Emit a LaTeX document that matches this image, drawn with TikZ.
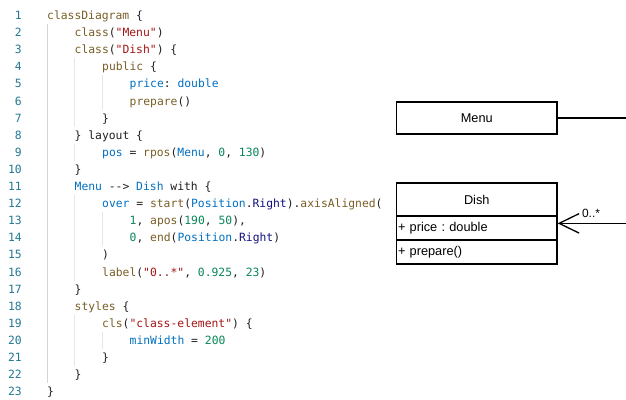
\documentclass[tikz,border=0pt]{standalone}
\usepackage{fontspec}
\setmainfont{Liberation Sans}
\setmonofont{DejaVu Sans Mono}
\usetikzlibrary{arrows.meta,calc}
\definecolor{cfun}{HTML}{795E26}
\definecolor{cstr}{HTML}{A31515}
\definecolor{cnum}{HTML}{098658}
\definecolor{cvar}{HTML}{0070C1}
\definecolor{cenum}{HTML}{101080}
\definecolor{cpun}{HTML}{1F1F1F}
\definecolor{clnum}{HTML}{237893}
\definecolor{guideA}{HTML}{D4D4D4}
\definecolor{guideB}{HTML}{E6E6E6}
\newcommand\cF[1]{\textcolor{cfun}{#1}}
\newcommand\cS[1]{\textcolor{cstr}{#1}}
\newcommand\cN[1]{\textcolor{cnum}{#1}}
\newcommand\cV[1]{\textcolor{cvar}{#1}}
\newcommand\cR[1]{\textcolor{cenum}{#1}}
\frenchspacing
\tikzset{
  codeline/.style={anchor=base west, inner sep=0pt, text=cpun,
    font=\ttfamily\fontsize{11.4}{13}\selectfont},
  lnum/.style={anchor=base east, inner sep=0pt, text=clnum,
    font=\ttfamily\fontsize{11.4}{13}\selectfont},
  guide1/.style={draw=guideA, line width=1bp},
  guide2/.style={draw=guideB, line width=1bp},
  umlbox/.style={draw=black, line width=1.3bp, minimum width=160.5bp,
    inner sep=0pt, font=\frenchspacing\fontsize{12.8}{15}\selectfont},
  umlrow/.style={umlbox, text width=157.5bp, align=left, inner xsep=1.5bp},
  mult/.style={inner sep=0pt, font=\fontsize{12}{14}\selectfont},
  assoc/.style={draw=black, line width=1.3bp,
    -{Straight Barb[length=20bp, width=19.5bp, line width=1.3bp]}}
}
\begin{document}
\begin{tikzpicture}[x=1bp, y=-1bp]
\useasboundingbox (0,0) rectangle (626,399);
\begin{scope}
\clip (0,0) rectangle (626,399);
% line numbers
\foreach \i in {1,...,23} {
  \node[lnum] (ln\i) at (22, {19.5+17.1*(\i-1)}) {\i};
}
% indent guides
\draw[guide1] (47.5,24) -- (47.5,383.2);
\draw[guide2] (74.5,58.2) -- (74.5,126.6);
\draw[guide2] (74.5,143.7) -- (74.5,160.8);
\draw[guide2] (74.5,195.0) -- (74.5,280.5);
\draw[guide2] (74.5,314.7) -- (74.5,365.9);
\draw[guide2] (102,75.3) -- (102,109.5);
\draw[guide2] (102,212.1) -- (102,246.3);
\draw[guide2] (102,331.8) -- (102,348.9);
% code
\node[codeline] (c1) at (47,19.5) {\cF{classDiagram} \{};
\node[codeline] (c2) at (74.5,36.6) {\cF{class}(\cS{"Menu"})};
\node[codeline] (c3) at (74.5,53.7) {\cF{class}(\cS{"Dish"}) \{};
\node[codeline] (c4) at (102,70.8) {\cF{public} \{};
\node[codeline] (c5) at (129.5,87.9) {\cV{price}: \cV{double}};
\node[codeline] (c6) at (129.5,105.0) {\cF{prepare}()};
\node[codeline] (c7) at (102,122.1) {\}};
\node[codeline] (c8) at (74.5,139.2) {\} layout \{};
\node[codeline] (c9) at (102,156.3) {\cV{pos} = \cF{rpos}(\cV{Menu}, \cN{0}, \cN{130})};
\node[codeline] (c10) at (74.5,173.4) {\}};
\node[codeline] (c11) at (74.5,190.5) {\cV{Menu} --> \cV{Dish} with \{};
\node[codeline] (c12) at (102,207.6) {\cV{over} = \cF{start}(\cV{Position}.\cR{Right}).\cF{axisAligned}(};
\node[codeline] (c13) at (129.5,224.7) {\cN{1}, \cF{apos}(\cN{190}, \cN{50}),};
\node[codeline] (c14) at (129.5,241.8) {\cN{0}, \cF{end}(\cV{Position}.\cR{Right})};
\node[codeline] (c15) at (102,258.9) {)};
\node[codeline] (c16) at (102,276.0) {\cF{label}(\cS{"0..*"}, \cN{0.925}, \cN{23})};
\node[codeline] (c17) at (74.5,293.1) {\}};
\node[codeline] (c18) at (74.5,310.2) {\cF{styles} \{};
\node[codeline] (c19) at (102,327.3) {\cF{cls}(\cS{"class-element"}) \{};
\node[codeline] (c20) at (129.5,344.4) {\cV{minWidth} = \cN{200}};
\node[codeline] (c21) at (102,361.5) {\}};
\node[codeline] (c22) at (74.5,378.6) {\}};
\node[codeline] (c23) at (47,395.7) {\}};
% diagram
\node[umlbox, minimum height=32bp] (menu) at (476.75,118) {Menu};
\node[umlbox, minimum height=33bp] (dish) at (476.75,199.5) {Dish};
\node[umlrow, minimum height=24bp] (dishattr) at (476.75,228) {+ price : double};
\node[umlrow, minimum height=24bp] (dishops) at (476.75,252) {+ prepare()};
\coordinate (tip) at ($(dish.north east)+(0,41)$);
\draw[assoc] (menu.east) -- ++(100,0) |- (tip);
\node[mult] (m1) at (591,213) {0..*};
\end{scope}
\end{tikzpicture}
\end{document}
